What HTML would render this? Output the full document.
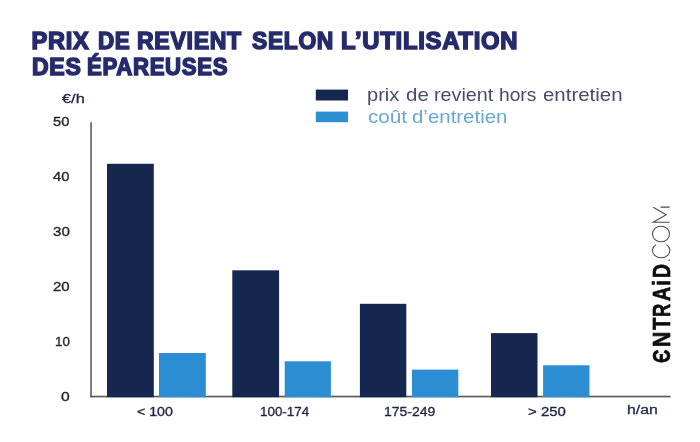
<!DOCTYPE html>
<html lang="fr">
<head>
<meta charset="utf-8">
<title>Prix de revient selon l'utilisation des épareuses</title>
<style>
  html, body { margin: 0; padding: 0; }
  body {
    width: 700px; height: 442px; overflow: hidden; position: relative;
    background: #ffffff;
    font-family: "Liberation Sans", sans-serif;
  }
  #page { position: absolute; left: 0; top: 0; width: 700px; height: 442px; will-change: transform; }
  .abs { position: absolute; white-space: nowrap; line-height: 1; }

  /* Title */
  .tw {
    color: #262b6c; font-weight: bold; font-size: 23.6px;
    -webkit-text-stroke: 1.5px #262b6c; letter-spacing: 0.7px; transform-origin: 0 0;
  }
  .l1 { top: 30.4px; }
  .l2 { top: 56.1px; }

  /* Labels */
  .ylab { color: #25252b; font-size: 13.5px; transform-origin: 0 0; -webkit-text-stroke: 0.35px #25252b; }
  .xlab { color: #1f2440; font-size: 13.5px; top: 405.3px; transform-origin: 0 0; -webkit-text-stroke: 0.35px #1f2440; }
  .unit { color: #1d2347; font-size: 13.7px; transform-origin: 0 0; -webkit-text-stroke: 0.3px #1d2347; }

  /* Legend */
  .leg { font-size: 19px; transform-origin: 0 0; }
  .g1 { color: #454c6c; top: 84.8px; }
  .g2 { color: #68a9cd; top: 107.2px; }

  /* Logo */
  #logo-b {
    left: 649.8px; top: 361.9px; width: 100px; height: 24px;
    transform-origin: 0 0; transform: rotate(-90deg);
    font-size: 24px; color: #0d0d0d; font-weight: bold; -webkit-text-stroke: 0.7px #0d0d0d;
  }
  #logo-b span { position: absolute; top: 0; transform-origin: 0 0; line-height: 1; }
  #logo-t { position: absolute; left: 640px; top: 195px; }
</style>
</head>
<body>
<div id="page">

<div class="abs tw l1" style="left:31.55px; transform:scaleX(1.0000);">PRIX</div>
<div class="abs tw l1" style="left:97.99px; transform:scaleX(0.9508);">DE</div>
<div class="abs tw l1" style="left:137.37px; transform:scaleX(0.9788);">REVIENT</div>
<div class="abs tw l1" style="left:251.84px; transform:scaleX(0.9677);">SELON</div>
<div class="abs tw l1" style="left:341.14px; transform:scaleX(1.0119);">L’UTILISATION</div>
<div class="abs tw l2" style="left:31.57px; transform:scaleX(0.9776);">DES</div>
<div class="abs tw l2" style="left:86.89px; transform:scaleX(0.9407);">ÉPAREUSES</div>

<div id="unit-y" class="abs unit" style="left:62.2px; top:92.4px; transform:scaleX(1.1945);">€/h</div>

<div class="abs ylab" id="y50" style="left:53.23px; top:115.3px; transform:scaleX(1.0897);">50</div>
<div class="abs ylab" id="y40" style="left:53.23px; top:170.2px; transform:scaleX(1.0897);">40</div>
<div class="abs ylab" id="y30" style="left:52.82px; top:225.1px; transform:scaleX(1.1172);">30</div>
<div class="abs ylab" id="y20" style="left:52.95px; top:279.9px; transform:scaleX(1.1088);">20</div>
<div class="abs ylab" id="y10" style="left:54.86px; top:334.8px; transform:scaleX(0.9857);">10</div>
<div class="abs ylab" id="y0" style="left:61.01px; top:389.6px; transform:scaleX(1.1571);">0</div>

<div class="abs leg g1" style="left:367.08px; transform:scaleX(1.0552);">prix</div>
<div class="abs leg g1" style="left:405.59px; transform:scaleX(1.0769);">de</div>
<div class="abs leg g1" style="left:434.10px; transform:scaleX(1.0386);">revient</div>
<div class="abs leg g1" style="left:499.34px; transform:scaleX(1.0114);">hors</div>
<div class="abs leg g1" style="left:542.69px; transform:scaleX(1.0764);">entretien</div>
<div class="abs leg g2" style="left:367.59px; transform:scaleX(1.0857);">coût</div>
<div class="abs leg g2" style="left:412.19px; transform:scaleX(1.0755);">d’entretien</div>

<svg id="chart" width="700" height="442" viewBox="0 0 700 442" style="position:absolute;left:0;top:0;">
  <!-- legend swatches -->
  <rect x="315.8" y="89.6" width="32.2" height="10.9" fill="#16274f"/>
  <rect x="315.8" y="111.6" width="32.2" height="10.6" fill="#2b8ed2"/>
  <!-- axes -->
  <rect x="90.2" y="122.2" width="1.7" height="275.2" fill="#666666"/>
  <rect x="90.2" y="395.7" width="580.4" height="1.7" fill="#5c5c5c"/>
  <!-- bars -->
  <rect x="107.0" y="163.8" width="46.8" height="233.4" fill="#16274f"/>
  <rect x="159.0" y="353.0" width="46.8" height="44.2" fill="#2b8ed2"/>
  <rect x="232.3" y="270.3" width="46.8" height="126.9" fill="#16274f"/>
  <rect x="284.7" y="361.3" width="46.2" height="35.9" fill="#2b8ed2"/>
  <rect x="359.9" y="303.8" width="46.4" height="93.4" fill="#16274f"/>
  <rect x="412.0" y="369.6" width="46.3" height="27.6" fill="#2b8ed2"/>
  <rect x="491.0" y="333.1" width="46.5" height="64.1" fill="#16274f"/>
  <rect x="543.1" y="365.3" width="46.4" height="31.9" fill="#2b8ed2"/>
</svg>

<div class="abs xlab" id="x1" style="left:137.38px; transform:scaleX(1.0496);">&lt; 100</div>
<div class="abs xlab" id="x2" style="left:259.76px; transform:scaleX(0.9918);">100-174</div>
<div class="abs xlab" id="x3" style="left:384.32px; transform:scaleX(1.0342);">175-249</div>
<div class="abs xlab" id="x4" style="left:528.15px; transform:scaleX(1.1068);">&gt; 250</div>
<div class="abs unit" id="unit-x" style="left:627.43px; top:402.9px; transform:scaleX(1.1564);">h/an</div>

<div id="logo-b" class="abs">
  <span style="left:-0.59px; transform:scaleX(0.7875);">Є</span>
  <span style="left:15.00px; transform:scaleX(0.8814);">N</span>
  <span style="left:31.50px; transform:scaleX(0.8407);">T</span>
  <span style="left:45.45px; transform:scaleX(0.7625);">R</span>
  <span style="left:61.30px; transform:scaleX(0.8119);">A</span>
  <span style="left:75.88px; transform:scaleX(0.8800);">i</span>
  <span style="left:83.79px; transform:scaleX(0.8066);">D</span>
</div>
<svg id="logo-t" width="50" height="75" viewBox="640 195 50 75" fill="none" stroke="#4a4a4a" stroke-width="1.05">
  <!-- ".COM" drawn bottom-to-top in hairline strokes -->
  <circle cx="669.2" cy="260.2" r="0.8" fill="#4a4a4a" stroke="none"/>
  <!-- C : opening faces up -->
  <path d="M 656.0 244.6 A 8.7 7.3 0 1 0 666.3 244.6"/>
  <!-- O -->
  <ellipse cx="661.0" cy="234.0" rx="8.5" ry="7.8"/>
  <!-- M -->
  <path d="M 669.6 222.3 L 653.2 222.3 L 666.2 214.8 L 653.2 207.3 M 660.5 207.1 L 669.6 207.1"/>
</svg>

</div>
</body>
</html>
